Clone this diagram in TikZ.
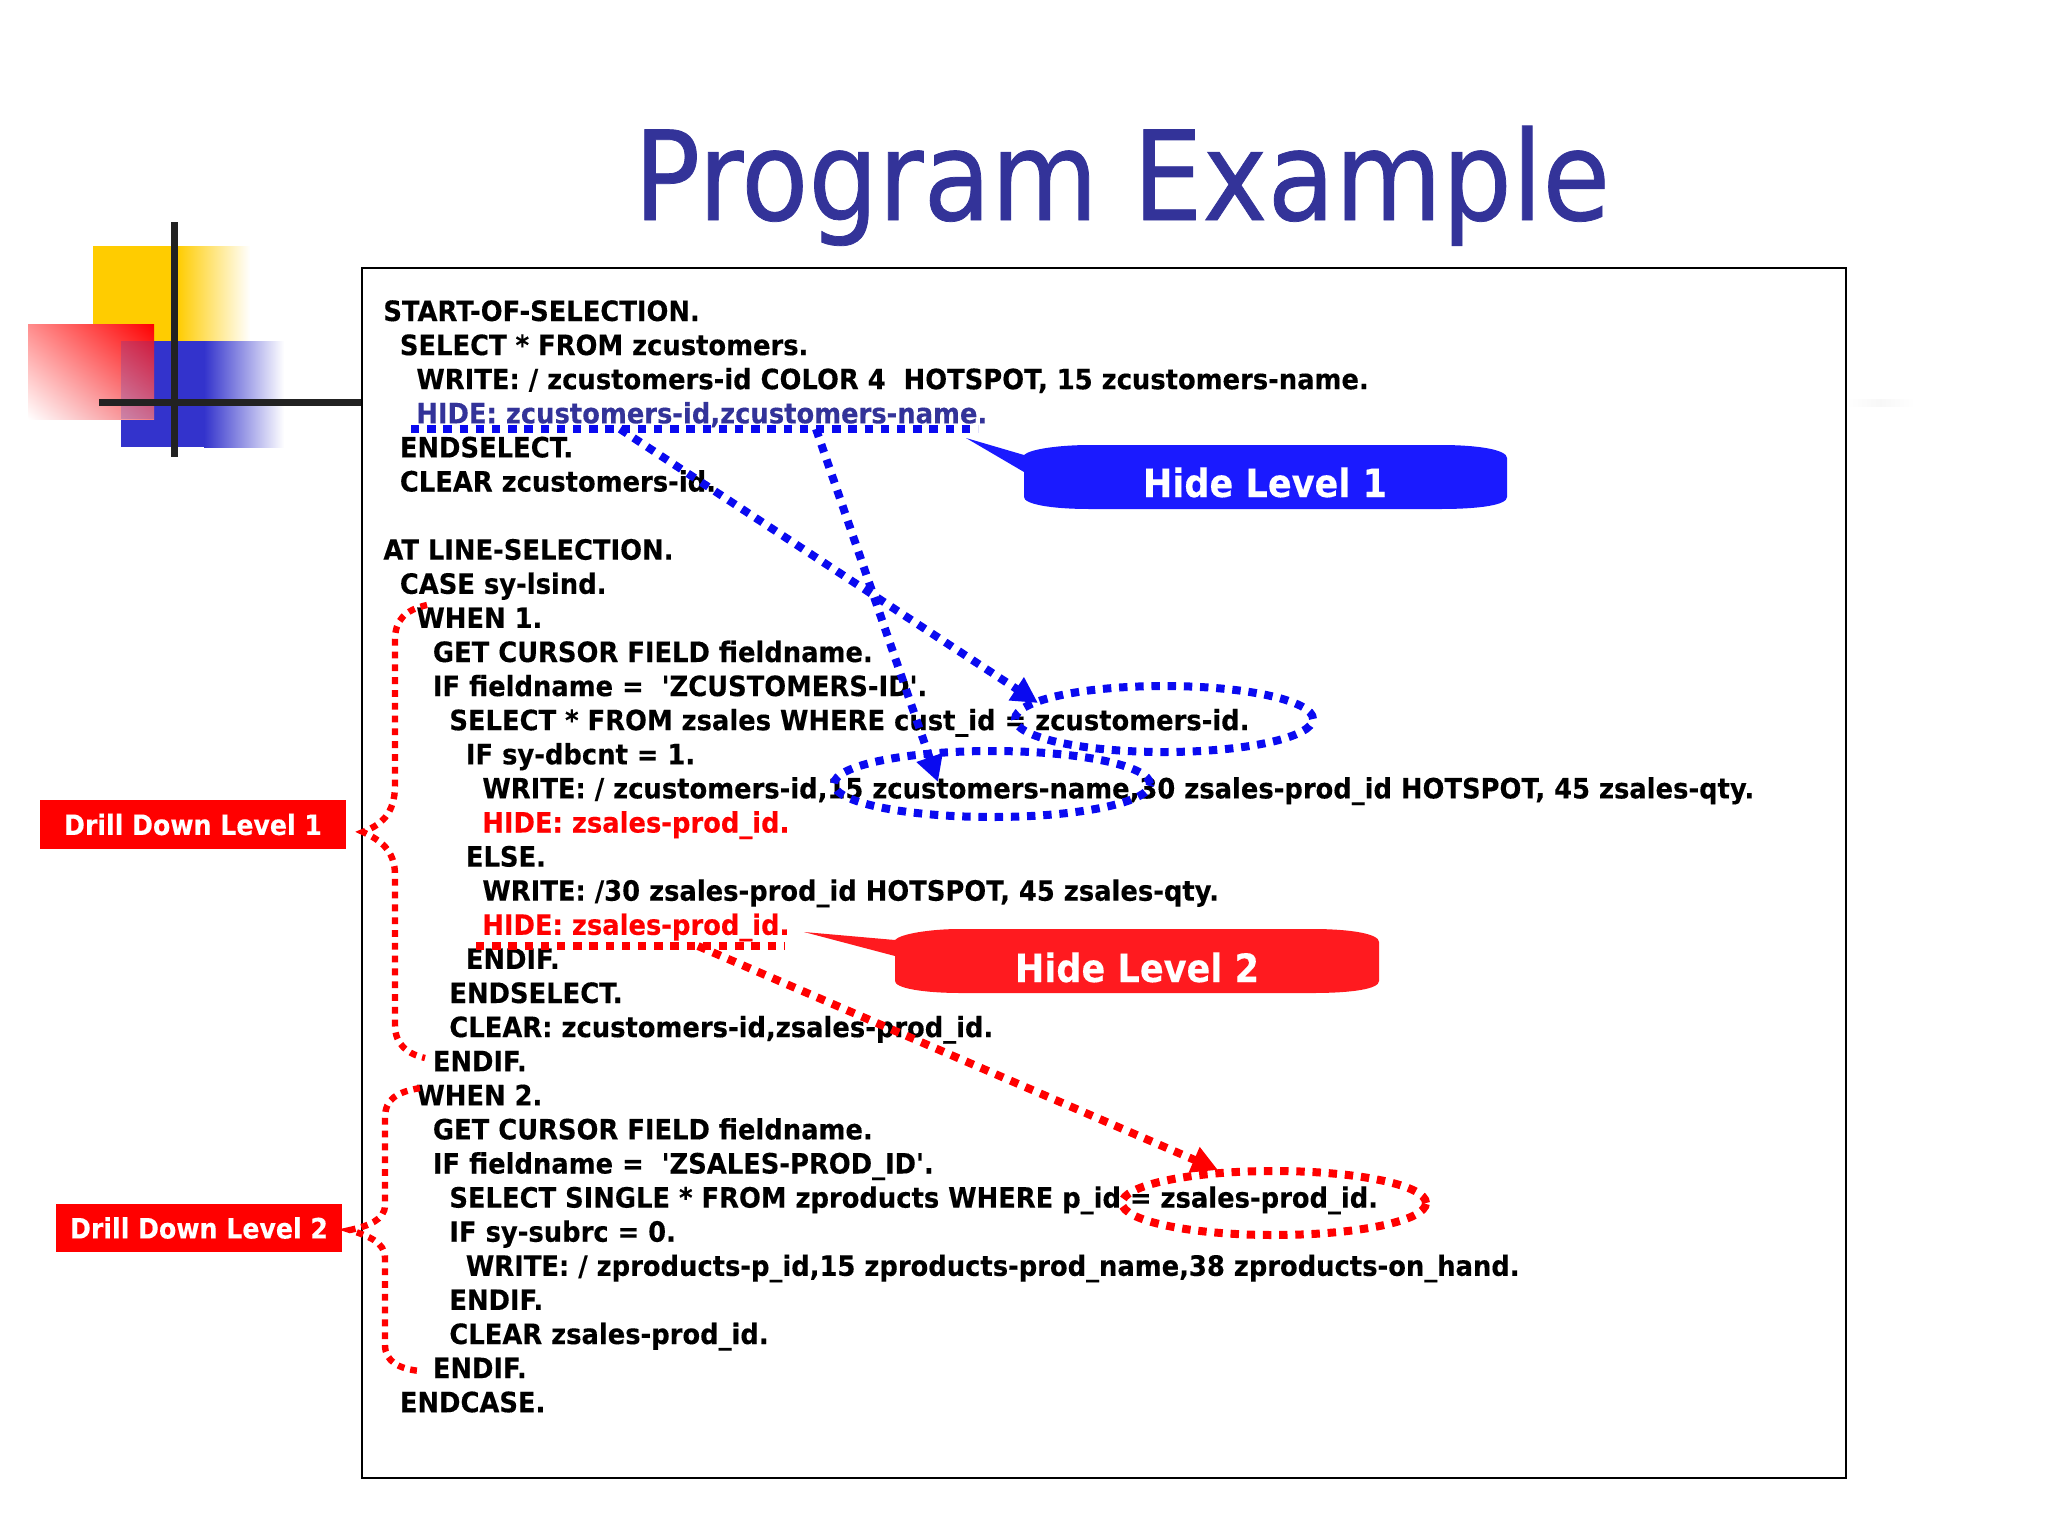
\documentclass[tikz,border=0pt]{standalone}
\usepackage{fontspec}
\usetikzlibrary{arrows.meta,shapes.geometric,shadings}
\newfontfamily\codefont[FakeStretch=0.921,FakeBold=0.25]{DejaVu Sans Bold}
\newfontfamily\labelfont[FakeStretch=0.90,FakeBold=0.25]{DejaVu Sans Bold}
\newfontfamily\titlefont[FakeStretch=0.887,FakeBold=0.6]{DejaVu Sans}
\definecolor{deckblue}{HTML}{333399}
\definecolor{dotblue}{HTML}{0A0AF0}
\definecolor{calloutblue}{HTML}{1A1AFF}
\definecolor{calloutred}{HTML}{FF1A1F}
\definecolor{barblack}{HTML}{222222}
\definecolor{decoyellow}{HTML}{FFCC00}
\definecolor{decoblue}{HTML}{3333CC}
\definecolor{redul}{HTML}{FF8C8C}
\definecolor{redlr}{HTML}{F5787D}
\tikzset{
  codeline/.style={anchor=base west,inner sep=0pt,font=\codefont\fontsize{14pt}{16pt}\selectfont},
  bluedots/.style={draw=dotblue,line width=4pt,dash pattern=on 4.2pt off 3.9pt},
  reddots/.style={draw=red,line width=3.2pt,dash pattern=on 3.4pt off 3pt},
  reddotsb/.style={draw=red,line width=4pt,dash pattern=on 4.2pt off 3.9pt},
  tipblue/.style={-{Triangle[length=13pt,width=13pt,fill=dotblue]}},
  tipred/.style={-{Triangle[length=13pt,width=13pt,fill=red]}},
  drillbox/.style={fill=red,text=white,inner sep=0pt,font=\labelfont\fontsize{14pt}{16pt}\selectfont},
  calloutlabel/.style={text=white,inner sep=0pt,anchor=base,font=\labelfont\fontsize{19.5pt}{22pt}\selectfont},
  ring/.style={ellipse,inner sep=0pt},
}
\newcommand{\codeln}[4][black]{%
  \node[codeline,text=#1] (l#2) at ({383+16.5*#3},{321+34.1*#2}) {#4};}
\begin{document}
\begin{tikzpicture}[x=0.5pt,y=-0.5pt]
\useasboundingbox[fill=white] (0,0) rectangle (2048,1536);
% decoration
\shade[left color=white,right color=white,middle color=gray!6,draw=none] (1846,399) rectangle (1915,406);
\fill[decoyellow] (93,246) rectangle (177,342);
\shade[left color=decoyellow,right color=white,draw=none] (177,246) rectangle (250,342);
\fill[decoblue] (121,341) rectangle (204,447);
\shade[left color=decoblue,right color=white,draw=none] (204,341) rectangle (284,447);
\shade[lower left=white,upper right=red,upper left=redul,lower right=redlr,draw=none] (28,324) rectangle (154,419);
\fill[decoblue,opacity=0.22] (121,341) rectangle (154,419);
\fill[barblack] (171,222) rectangle (178,457);
\fill[barblack] (99,399) rectangle (362,406);
% title
\node[inner sep=0pt,anchor=base,text=deckblue,font=\titlefont\fontsize{62pt}{70pt}\selectfont] (title) at (1122,220) {Program Example};
% code box
\node[draw=black,line width=1pt,fill=white,inner sep=0pt,minimum width=742pt,minimum height=605pt] (frame) at (1104,873) {};
\codeln{0}{0}{START-OF-SELECTION.}
\codeln{1}{1}{SELECT * FROM zcustomers.}
\codeln{2}{2}{WRITE: / zcustomers-id COLOR 4\ \ HOTSPOT, 15 zcustomers-name.}
\codeln[deckblue]{3}{2}{HIDE: zcustomers-id,zcustomers-name.}
\codeln{4}{1}{ENDSELECT.}
\codeln{5}{1}{CLEAR zcustomers-id.}
\codeln{7}{0}{AT LINE-SELECTION.}
\codeln{8}{1}{CASE sy-lsind.}
\codeln{9}{2}{WHEN 1.}
\codeln{10}{3}{GET CURSOR FIELD fieldname.}
\codeln{11}{3}{IF fieldname =\ \ 'ZCUSTOMERS-ID'.}
\codeln{12}{4}{SELECT * FROM zsales WHERE cust\_id = zcustomers-id.}
\codeln{13}{5}{IF sy-dbcnt = 1.}
\codeln{14}{6}{WRITE: / zcustomers-id,15 zcustomers-name,30 zsales-prod\_id HOTSPOT, 45 zsales-qty.}
\codeln[red]{15}{6}{HIDE: zsales-prod\_id.}
\codeln{16}{5}{ELSE.}
\codeln{17}{6}{WRITE: /30 zsales-prod\_id HOTSPOT, 45 zsales-qty.}
\codeln[red]{18}{6}{HIDE: zsales-prod\_id.}
\codeln{19}{5}{ENDIF.}
\codeln{20}{4}{ENDSELECT.}
\codeln{21}{4}{CLEAR: zcustomers-id,zsales-prod\_id.}
\codeln{22}{3}{ENDIF.}
\codeln{23}{2}{WHEN 2.}
\codeln{24}{3}{GET CURSOR FIELD fieldname.}
\codeln{25}{3}{IF fieldname =\ \ 'ZSALES-PROD\_ID'.}
\codeln{26}{4}{SELECT SINGLE * FROM zproducts WHERE p\_id = zsales-prod\_id.}
\codeln{27}{4}{IF sy-subrc = 0.}
\codeln{28}{5}{WRITE: / zproducts-p\_id,15 zproducts-prod\_name,38 zproducts-on\_hand.}
\codeln{29}{4}{ENDIF.}
\codeln{30}{4}{CLEAR zsales-prod\_id.}
\codeln{31}{3}{ENDIF.}
\codeln{32}{1}{ENDCASE.}
% underlines, rings and arrows
\coordinate (ua) at (411,429); \coordinate (ub) at (978,429);
\coordinate (uc) at (620,429); \coordinate (ud) at (816,429);
\coordinate (ta) at (1038,703); \coordinate (tb) at (938,782);
\coordinate (ra) at (476,946); \coordinate (rb) at (785,946);
\coordinate (rc) at (698,946); \coordinate (tc) at (1218,1170);
\draw[bluedots] (ua) -- (ub);
\draw[reddotsb] (ra) -- (rb);
\node[ring,bluedots,minimum width=149pt,minimum height=33pt] (e1) at (1164,719) {};
\node[ring,bluedots,minimum width=158pt,minimum height=33pt] (e2) at (992,784) {};
\node[ring,reddotsb,minimum width=152pt,minimum height=32pt] (e3) at (1274,1203) {};
\draw[bluedots,tipblue] (uc) -- (ta);
\draw[bluedots,tipblue] (ud) -- (tb);
\draw[reddotsb,tipred] (rc) -- (tc);
% callouts
\fill[calloutblue] (966,438) -- (1024,455) .. controls (1030,449) and (1060,445) .. (1090,445) -- (1440,445) .. controls (1480,445) and (1507,450) .. (1507,458) -- (1507,497) .. controls (1507,505) and (1480,509) .. (1440,509) -- (1090,509) .. controls (1050,509) and (1024,504) .. (1024,497) -- (1024,472) -- cycle;
\node[calloutlabel] (h1) at (1265,497) {Hide Level 1};
\fill[calloutred] (804,932) -- (895,940) .. controls (900,934) and (930,929) .. (960,929) -- (1312,929) .. controls (1352,929) and (1379,934) .. (1379,942) -- (1379,981) .. controls (1379,989) and (1352,993) .. (1312,993) -- (962,993) .. controls (922,993) and (895,988) .. (895,981) -- (895,956) -- cycle;
\node[calloutlabel] (h2) at (1137,982) {Hide Level 2};
% drill boxes
\node[drillbox,minimum width=153pt,minimum height=24.5pt] (d1) at (193,824.5) {Drill Down Level 1};
\node[drillbox,minimum width=143pt,minimum height=24pt] (d2) at (199,1228) {Drill Down Level 2};
% braces
\coordinate (b1a) at (427,605); \coordinate (b1b) at (425,1058);
\coordinate (b1t) at (363,832);
\draw[reddots] (b1a) .. controls (405,610) and (395,620) .. (395,640) -- (395,785) .. controls (395,815) and (380,825) .. (b1t) .. controls (380,840) and (395,850) .. (395,875) -- (395,1025) .. controls (395,1045) and (408,1054) .. (b1b);
\coordinate (b2a) at (420,1088); \coordinate (b2b) at (420,1371);
\coordinate (b2t) at (350,1230);
\draw[reddots] (b2a) .. controls (398,1092) and (385,1098) .. (385,1118) -- (385,1205) .. controls (385,1220) and (368,1226) .. (b2t) .. controls (368,1236) and (385,1242) .. (385,1258) -- (385,1345) .. controls (385,1362) and (400,1369) .. (b2b);
\end{tikzpicture}
\end{document}
